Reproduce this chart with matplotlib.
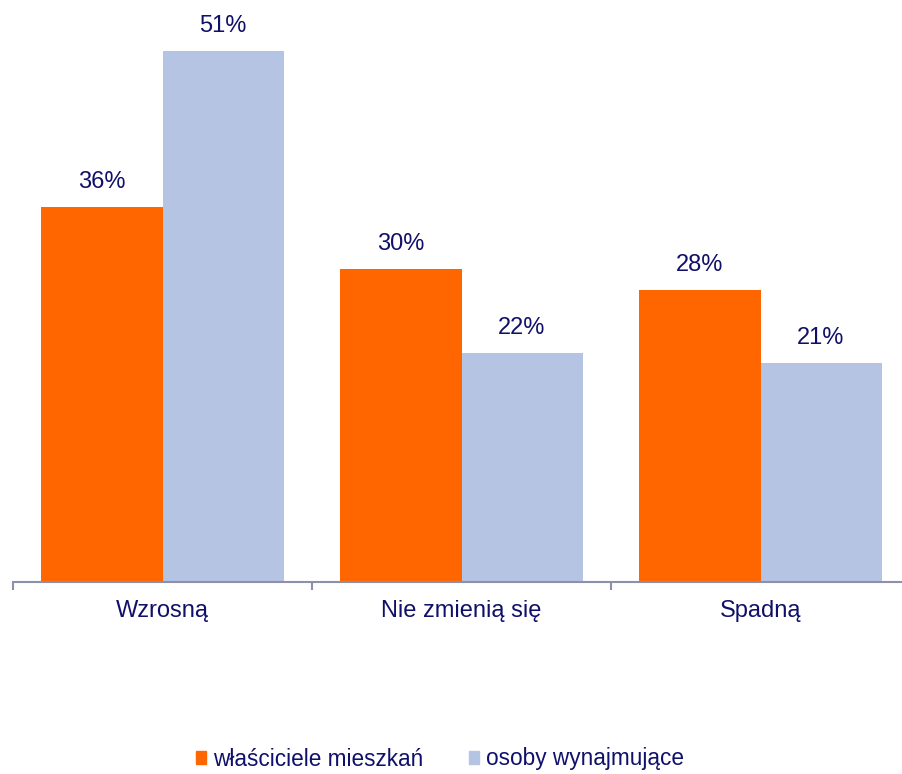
import numpy as np
import matplotlib.pyplot as plt
from matplotlib.patches import Patch

# Data
categories = ["Wzrosną", "Nie zmienią się", "Spadną"]
owners = [36, 30, 28]
renters = [51, 22, 21]
series_names = ["właściciele mieszkań", "osoby wynajmujące"]

ORANGE = "#FF6600"
BLUE = "#B4C4E2"
TEXT = "#10106A"
AXIS = "#8C90A8"

plt.rcParams['font.family'] = ['Liberation Sans', 'DejaVu Sans']

fig = plt.figure(figsize=(9.02, 7.74), dpi=100)
ax = fig.add_axes([13 / 902, (774 - 582) / 774, 897 / 902, 582 / 774])

x = np.arange(len(categories))
w = 0.405
b1 = ax.bar(x - w / 2, owners, w, color=ORANGE)
b2 = ax.bar(x + w / 2, renters, w, color=BLUE)

# value labels above bars
for bars, vals in ((b1, owners), (b2, renters)):
    for rect, v in zip(bars, vals):
        ax.annotate(f"{v}%", (rect.get_x() + rect.get_width() / 2, v),
                    xytext=(0, 18), textcoords="offset points",
                    ha="center", va="center", fontsize=17, color=TEXT,
                    annotation_clip=False)

ax.set_xlim(-0.5, 2.5)
ax.set_ylim(0, 55.85)
ax.set_yticks([])
for s in ("top", "right", "left"):
    ax.spines[s].set_visible(False)
ax.spines["bottom"].set_color(AXIS)
ax.spines["bottom"].set_linewidth(1.5)

# group separators as major ticks, category names on minor ticks
ax.set_xticks([-0.5, 0.5, 1.5, 2.5])
ax.set_xticklabels([])
ax.tick_params(axis="x", length=6, width=1.5, color=AXIS)
ax.set_xticks(x, minor=True)
ax.set_xticklabels(categories, minor=True)
ax.tick_params(axis="x", which="minor", length=0, pad=13,
               labelsize=17, labelcolor=TEXT)

handles = [Patch(color=ORANGE), Patch(color=BLUE)]
fig.legend(handles, series_names, loc="center", bbox_to_anchor=(440 / 902, 1 - 759 / 774),
           ncol=2, frameon=False, fontsize=16.3, labelcolor=TEXT, borderpad=0,
           handlelength=0.44, handleheight=0.53, handletextpad=0.3, columnspacing=2.05)

fig.savefig("out.png", dpi=100)
